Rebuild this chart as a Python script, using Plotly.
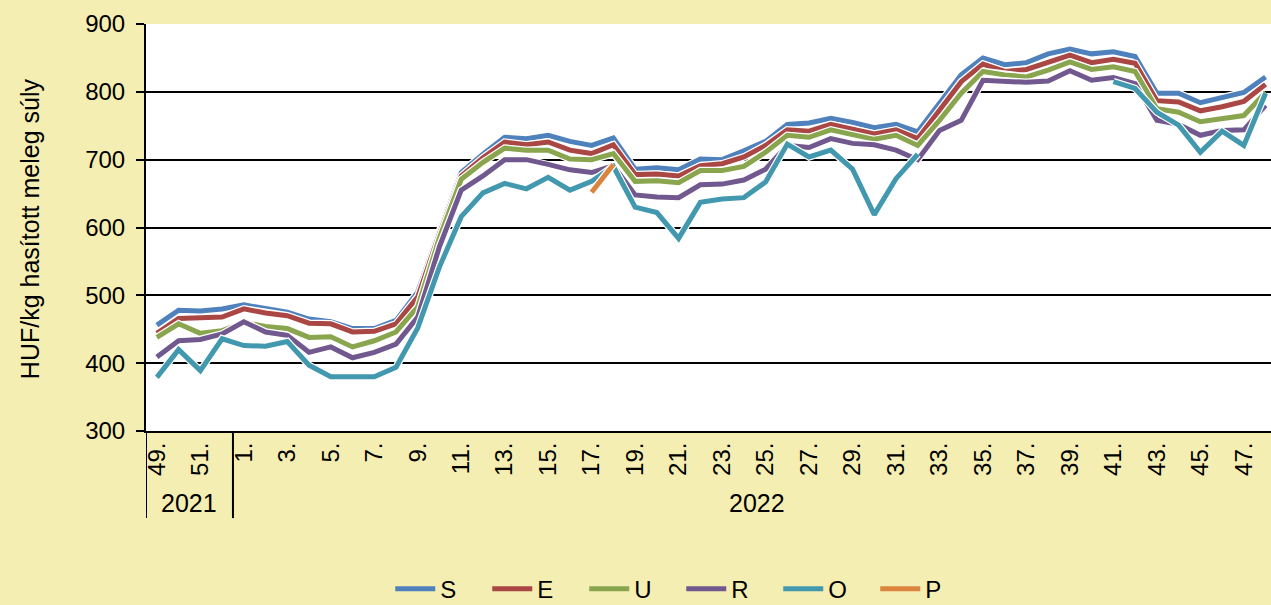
import plotly.graph_objects as go

weeks_2021 = [49, 50, 51, 52]
weeks_2022 = list(range(1, 49))
week_labels = [f"{w}." for w in weeks_2021 + weeks_2022]
years = ["2021", "2022"]

S = [456, 478, 477, 480, 486, 480, 475, 465, 461, 451, 451, 463, 505, 595, 681, 708, 733, 731, 736, 727,
     721, 732, 686, 688, 685, 701, 700, 713, 727, 752, 754, 761, 755, 747, 752, 741, 783, 825, 850, 840,
     843, 856, 863, 856, 859, 852, 798, 798, 784, 792, 799, 822]
E = [444, 466, 467, 468, 480, 474, 470, 459, 458, 446, 447, 458, 498, 591, 676, 703, 726, 722, 726, 714,
     709, 722, 678, 679, 676, 691, 694, 704, 721, 744, 742, 752, 745, 738, 744, 731, 773, 815, 841, 830,
     833, 844, 854, 843, 848, 842, 787, 785, 772, 778, 786, 811]
U = [438, 458, 444, 448, 460, 454, 451, 438, 439, 424, 433, 446, 483, 585, 671, 696, 717, 714, 714, 701,
     700, 709, 668, 669, 666, 684, 684, 690, 711, 736, 733, 744, 737, 730, 736, 721, 758, 798, 830, 825,
     822, 832, 844, 833, 837, 830, 775, 770, 756, 761, 765, 799]
R = [409, 433, 435, 443, 461, 446, 441, 416, 424, 408, 416, 428, 468, 572, 655, 676, 700, 700, 693, 685,
     681, 691, 648, 645, 644, 663, 664, 670, 686, 721, 718, 731, 724, 722, 714, 700, 743, 758, 817, 816,
     814, 816, 831, 817, 821, 812, 758, 752, 736, 743, 744, 780]
O = [379, 420, 389, 436, 426, 425, 432, 397, 380, 380, 380, 394, 452, 542, 616, 651, 665, 657, 674, 655,
     668, 690, 630, 622, 584, 637, 642, 644, 667, 723, 704, 714, 686, 619, 672, 708, None, None, None, None,
     None, None, None, None, 815, 805, 770, 751, 711, 742, 721, 798]
P = [None] * 20 + [652, 693] + [None] * 30

series_names = ["S", "E", "U", "R", "O", "P"]
series_values = [S, E, U, R, O, P]
series_colors = ["#4F81BD", "#AA4643", "#89A54E", "#71588F", "#4198AF", "#DB843D"]

x_idx = list(range(len(week_labels)))

fig = go.Figure()
for name, vals, col in zip(series_names, series_values, series_colors):
    fig.add_trace(go.Scatter(x=x_idx, y=vals, mode="lines", showlegend=False, hoverinfo="skip",
                             line=dict(color="white", width=7.5), connectgaps=False))
    fig.add_trace(go.Scatter(x=x_idx, y=vals, mode="lines", name=name,
                             line=dict(color=col, width=5), connectgaps=False))

FONT = "Liberation Sans, Arial, sans-serif"
n2021 = len(weeks_2021)

fig.update_layout(
    width=1271, height=605,
    margin=dict(l=146, r=0, t=24, b=174),
    paper_bgcolor="#F5EEB2",
    plot_bgcolor="white",
    font=dict(family=FONT, size=24, color="black"),
    showlegend=True,
    legend=dict(orientation="h", xref="container", yref="container", x=0.536, y=0.026,
                xanchor="center", yanchor="middle", font=dict(size=24, color="black"),
                bgcolor="rgba(0,0,0,0)", itemwidth=40, tracegroupgap=0,
                entrywidth=42, entrywidthmode="pixels"),
)
fig.update_xaxes(
    range=[-0.5, 51.25],
    tickmode="array", tickvals=x_idx[::2], ticktext=week_labels[::2],
    tickangle=-90, tickfont=dict(size=24, family=FONT, color="black"),
    ticks="", showgrid=False, zeroline=False,
    showline=True, linecolor="black", linewidth=2,
)
fig.update_yaxes(
    range=[300, 900], dtick=100, tick0=300,
    tickfont=dict(size=24, family=FONT, color="black"),
    ticks="outside", ticklen=8, tickwidth=2, tickcolor="black",
    showgrid=True, gridcolor="black", gridwidth=2,
    showline=True, linecolor="black", linewidth=2, zeroline=False,
    ticklabelstandoff=6,
)

# group dividers below the category axis
for xv in [-0.5, n2021 - 0.5]:
    fig.add_shape(type="line", xref="x", yref="paper", x0=xv, x1=xv, y0=0, y1=-0.214,
                  line=dict(color="black", width=2))

# year labels
fig.add_annotation(x=(n2021 - 1) / 2, y=-0.178, xref="x", yref="paper", text=years[0],
                   showarrow=False, font=dict(size=25, family=FONT, color="black"), yanchor="middle")
fig.add_annotation(x=27.6, y=-0.178, xref="x", yref="paper", text=years[1],
                   showarrow=False, font=dict(size=25, family=FONT, color="black"), yanchor="middle")

# y axis title
fig.add_annotation(x=(30 - 146) / 1125, y=0.496, xref="paper", yref="paper",
                   text="HUF/kg hasított meleg súly", textangle=-90, showarrow=False,
                   font=dict(size=25, family=FONT, color="black"), xanchor="center", yanchor="middle")

fig.write_html("out.html", config={"displayModeBar": False},
               post_script="document.body.style.margin='0';document.body.style.overflow='hidden';")
